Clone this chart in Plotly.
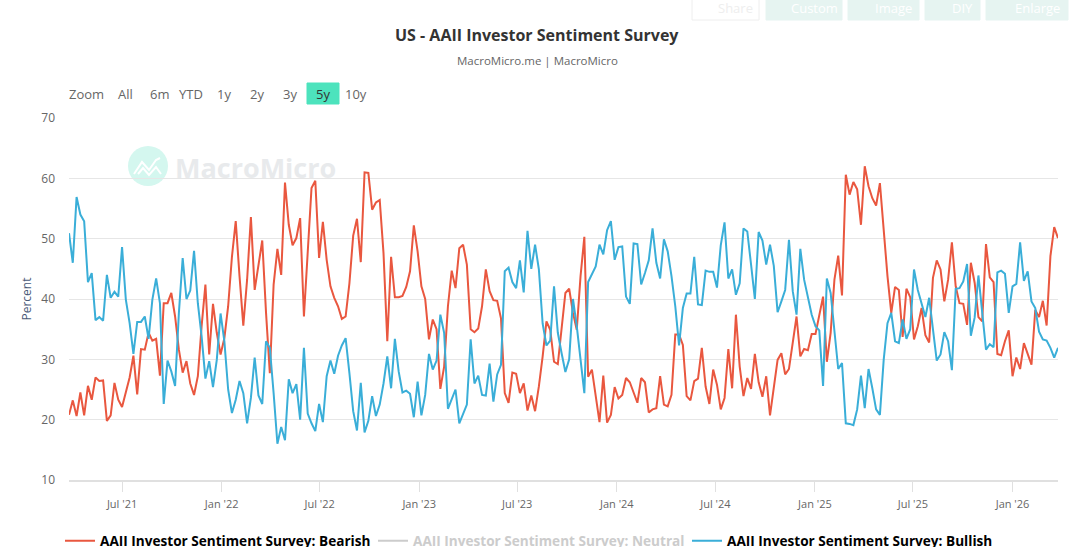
import pandas as pd
import plotly.graph_objects as go

bearish = [20.8,23.2,20.6,24.5,20.7,25.6,23.3,27.0,26.4,26.5,19.8,20.7,26.1,23.3,22.1,24.4,27.0,30.6,24.2,31.7,31.6,34.4,33.1,33.4,27.3,39.3,39.3,41.0,37.1,31.6,27.8,29.7,26.0,24.1,27.2,35.5,42.4,30.8,39.2,34.4,30.8,33.5,38.8,47.0,52.9,43.8,35.6,43.2,53.6,41.5,46.0,49.7,37.7,27.7,42.4,48.3,44.0,59.3,52.3,48.9,50.1,53.4,37.1,47.0,58.4,59.6,46.8,52.8,46.5,42.1,40.2,38.8,36.7,37.1,42.6,50.5,53.3,46.1,61.0,60.9,54.8,56.0,56.4,47.6,33.0,47.0,40.3,40.3,40.5,42.0,44.6,52.2,47.9,42.1,40.0,33.3,36.6,35.0,25.1,28.8,38.8,44.7,41.8,48.4,49.0,45.7,35.0,34.5,35.1,38.8,44.9,41.3,39.8,39.7,36.8,24.4,22.8,27.8,27.6,24.4,26.0,21.5,24.0,21.4,25.5,30.5,36.3,34.9,29.6,29.2,34.9,41.0,41.7,37.7,34.9,43.8,50.3,27.1,28.3,23.9,19.6,27.3,19.5,20.8,25.4,23.5,24.1,26.9,26.2,24.5,22.8,26.9,26.2,21.2,21.7,21.9,27.2,22.5,22.2,24.1,34.1,34.1,32.4,23.9,23.2,26.4,26.8,31.9,25.5,22.6,28.3,25.8,21.7,23.6,31.7,25.2,37.4,28.8,23.9,26.9,25.1,30.9,26.2,23.8,27.2,20.7,25.2,29.9,31.0,27.5,28.4,32.7,37.1,30.5,31.7,31.5,34.2,34.2,37.1,40.4,29.6,34.4,43.2,47.2,40.6,60.6,57.3,59.4,58.2,52.3,62.0,58.7,56.7,55.5,59.2,50.9,43.8,37.7,42.0,41.5,33.7,41.7,40.3,33.3,35.5,38.5,34.0,32.8,43.5,46.4,44.9,39.6,43.2,49.4,42.1,39.3,39.2,35.7,46.0,42.7,37.0,36.3,49.1,43.6,42.8,30.9,30.7,33.0,34.8,27.2,30.3,28.4,32.7,30.9,29.1,38.2,37.0,39.7,35.6,47.1,51.9,50.1]
bullish = [50.9,46.0,56.9,54.0,52.9,42.8,44.3,36.5,37.0,36.4,44.0,40.2,41.2,40.4,48.6,39.9,36.0,30.9,36.2,36.2,37.1,33.4,39.9,43.4,39.3,22.6,29.8,28.0,25.6,37.7,46.8,40.0,41.4,48.0,39.3,33.8,26.8,29.7,25.4,29.9,37.6,33.0,25.0,21.1,23.3,26.4,24.4,19.4,23.6,30.3,24.0,22.6,33.0,31.9,24.4,16.0,18.8,16.6,26.7,24.4,25.9,20.0,31.9,21.0,19.4,18.1,22.6,19.6,27.2,29.8,27.6,30.6,32.3,33.5,27.7,21.4,18.2,26.1,17.9,19.8,23.9,20.6,22.5,26.0,30.5,25.2,33.4,28.0,24.5,24.8,24.3,20.4,26.3,20.7,24.1,30.9,28.3,29.8,37.4,34.4,21.8,23.3,25.0,19.4,20.8,22.5,33.3,26.0,27.3,24.1,24.0,29.3,23.0,27.5,29.1,44.6,45.2,42.8,41.8,46.4,41.1,51.3,45.0,49.0,44.9,35.9,32.3,33.1,42.1,34.4,31.0,27.9,30.0,40.0,35.5,29.9,24.4,42.8,44.0,45.4,49.0,47.4,51.4,52.9,46.5,48.6,48.7,40.4,39.2,49.2,49.1,42.4,44.3,46.4,51.7,46.0,43.4,49.9,47.9,43.8,38.8,32.3,38.5,40.9,40.9,47.0,39.1,39.0,44.7,44.5,44.5,41.9,48.9,52.7,43.4,44.9,40.7,42.6,51.7,51.2,45.7,40.0,51.1,49.7,45.7,49.0,45.5,37.8,39.6,41.5,49.8,41.3,37.4,48.3,43.2,40.4,37.4,35.5,34.8,25.6,43.4,41.0,34.4,28.4,29.4,19.4,19.3,19.1,21.7,27.3,21.9,28.4,25.2,21.7,20.8,29.9,36.0,37.7,33.0,32.7,36.6,33.4,35.0,44.9,41.5,39.3,37.0,40.2,34.9,29.8,30.8,34.5,33.0,28.2,41.7,41.8,42.9,45.8,33.9,36.9,43.9,37.7,31.6,32.5,32.0,44.4,44.7,44.2,37.7,42.1,42.5,49.4,43.0,44.6,39.6,38.5,34.6,33.3,33.1,31.9,30.3,31.9]
last_date = "2026-03-26"
dates = pd.date_range(end=last_date, periods=len(bearish), freq="7D")
tick_dates = ["2021-07-01","2022-01-01","2022-07-01","2023-01-01","2023-07-01","2024-01-01","2024-07-01","2025-01-01","2025-07-01","2026-01-01"]
tick_labels = ["Jul '21","Jan '22","Jul '22","Jan '23","Jul '23","Jan '24","Jul '24","Jan '25","Jul '25","Jan '26"]
y_ticks = [10,20,30,40,50,60,70]
zoom_buttons = [("All",125),("6m",159),("YTD",191),("1y",224),("2y",257),("3y",290),("5y",323),("10y",356)]
top_buttons = [("Share",692,759),("Custom",766,842),("Image",848,919),("DIY",925,980),("Enlarge",986,1068)]

L,R,T,B = 69,1058,118,480
W,H = 1074,547
fx = lambda p: (p-L)/(R-L)
fy = lambda p: (B-p)/(B-T)
FONT = "Open Sans"
RED, BLUE = "#e9573f", "#3aaed8"

fig = go.Figure()
fig.add_trace(go.Scatter(x=dates,y=bearish,mode="lines",name="AAII Investor Sentiment Survey: Bearish",
    line=dict(color=RED,width=2),legend="legend"))
fig.add_trace(go.Scatter(x=dates,y=[None]*len(dates),mode="lines",name="AAII Investor Sentiment Survey: Neutral",
    line=dict(color="#cccccc",width=2),legend="legend2"))
fig.add_trace(go.Scatter(x=dates,y=bullish,mode="lines",name="AAII Investor Sentiment Survey: Bullish",
    line=dict(color=BLUE,width=2),legend="legend3"))

ann=[]; shapes=[]
def text(t,px,py,size,color,bold=False,**kw):
    ann.append(dict(text=f"<b>{t}</b>" if bold else t,x=fx(px),y=fy(py),xref="paper",yref="paper",showarrow=False,
        xanchor=kw.pop("xanchor","center"),yanchor="middle",font=dict(family=FONT,size=size,color=color),**kw))
def rect(x0,y0,x1,y1,fill,line=None):
    shapes.append(dict(type="rect",xref="paper",yref="paper",x0=fx(x0),x1=fx(x1),y0=fy(y0),y1=fy(y1),
        fillcolor=fill,line=dict(color=line or fill,width=1),layer="below"))

text("US - AAII Investor Sentiment Survey",537,35,16,"#333333",True)
text("MacroMicro.me | MacroMicro",537,60,11.5,"#666666")
text("Zoom",86,94,13,"#666666")
rect(307,83,339,104,"#4de3bd")
for lab,px in zoom_buttons:
    text(lab,px,94,13,"#333333" if lab=="5y" else "#666666")
for lab,a,b in top_buttons:
    rect(a,-6,b,20,"#ffffff" if lab=="Share" else "#e6f4f1","#eeeeee" if lab=="Share" else None)
    text(lab,(a+b)/2+10,8,13,"#eeeeee" if lab=="Share" else "#ffffff")
# watermark
shapes.append(dict(type="circle",xref="paper",yref="paper",x0=fx(128),x1=fx(168),y0=fy(186),y1=fy(146),
    fillcolor="#d4f7ef",line=dict(width=0),layer="below"))
pts=[(134,174),(142,162),(149,170),(156,160),(160,158)]
shapes.append(dict(type="path",xref="paper",yref="paper",layer="below",line=dict(color="#ffffff",width=2),
    path="M"+" L".join(f"{fx(a)},{fy(b)}" for a,b in pts)))
pts2=[(138,174),(143,168),(149,175),(156,167),(161,174)]
shapes.append(dict(type="path",xref="paper",yref="paper",layer="below",line=dict(color="#ffffff",width=2),
    path="M"+" L".join(f"{fx(a)},{fy(b)}" for a,b in pts2)))
text("MacroMicro",173,167,27,"#e8eaec",True,xanchor="left")

legend_base=dict(orientation="h",bgcolor="rgba(0,0,0,0)",xanchor="left",yanchor="middle",xref="container",yref="container",
    y=(H-541)/H,itemclick=False,itemdoubleclick=False)
lf=lambda c: dict(family=FONT,size=13.6,color=c,weight="bold")
fig.update_layout(
    width=W,height=H,margin=dict(l=L,r=W-R,t=T,b=H-B,autoexpand=False),
    paper_bgcolor="#ffffff",plot_bgcolor="#ffffff",showlegend=True,hovermode="x",
    font=dict(family=FONT,color="#666666"),
    annotations=ann,shapes=shapes,
    legend=dict(legend_base,x=60/W,font=lf("#000000")),
    legend2=dict(legend_base,x=373/W,font=lf("#cccccc")),
    legend3=dict(legend_base,x=687/W,font=lf("#000000")),
    xaxis=dict(range=[dates[0],dates[-1]],tickvals=tick_dates,ticktext=tick_labels,tickangle=0,showgrid=False,
        ticks="outside",ticklen=10,tickcolor="#e0e0e0",tickwidth=1,showline=True,linecolor="#e0e0e0",linewidth=2,
        tickfont=dict(family=FONT,size=11,color="#666666"),ticklabelstandoff=3),
    yaxis=dict(range=[10,70],tickvals=y_ticks,showgrid=True,gridcolor="#e6e6e6",gridwidth=1,zeroline=False,
        tickfont=dict(family=FONT,size=12,color="#666666"),ticklabelstandoff=13,
        title=dict(text="Percent",font=dict(family=FONT,size=12,color="#4a5a78"),standoff=7)),
)
fig.write_html("out.html",config=dict(displayModeBar=False),
    post_script="document.body.style.margin='0';document.body.style.overflow='hidden';")
